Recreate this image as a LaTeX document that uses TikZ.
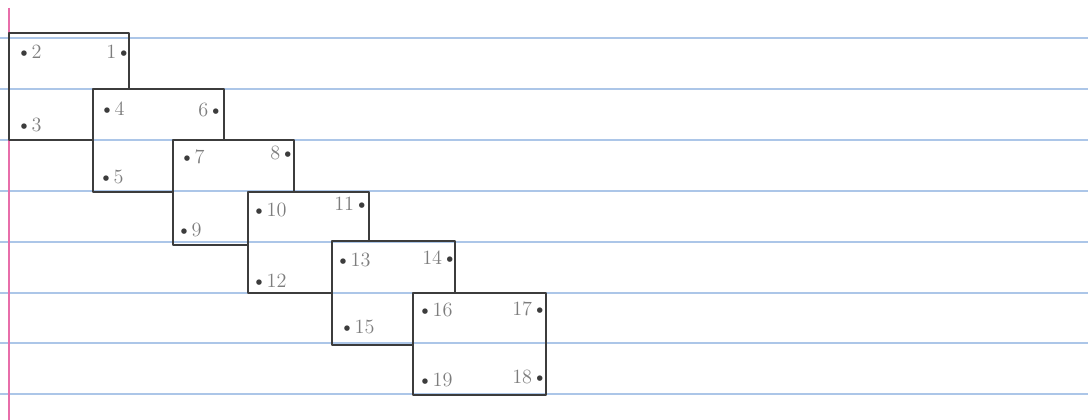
\documentclass[tikz,border=0pt]{standalone}
\usepackage{tikz}
\definecolor{ruleblue}{RGB}{172,198,232}
\definecolor{marginpink}{RGB}{232,110,170}
\definecolor{pencil}{RGB}{60,60,60}
\definecolor{lightpencil}{RGB}{125,125,125}
\newcommand{\pdot}{{\color{pencil}\textbullet}}

\begin{document}
\begin{tikzpicture}[x=0.025cm,y=-0.025cm,
  box/.style={draw=pencil,line width=1.6pt,line join=round},
  num/.style={text=lightpencil,font=\Large,inner sep=0pt,anchor=west}]
  \useasboundingbox (0,0) rectangle (1088,420);
  % paper
  \fill[white] (0,0) rectangle (1088,420);
  \draw[ruleblue,line width=1.2pt] (0,38)--(1088,38) (0,89)--(1088,89) (0,140)--(1088,140) (0,191)--(1088,191)
    (0,242)--(1088,242) (0,293)--(1088,293) (0,343)--(1088,343) (0,394)--(1088,394);
  \draw[marginpink,line width=1.6pt] (9,8)--(9,420);
  % box 1
  \draw[box] (129,89) -- (129,33) -- (9,33) -- (9,140) -- (93,140);
  \node[num] (n2) at (16,52) {\pdot2};
  \node[num] (n1) at (106,52) {1\pdot};
  \node[num] (n3) at (16,125) {\pdot3};
  % box 2
  \draw[box] (224,140) -- (224,89) -- (93,89) -- (93,192) -- (173,192);
  \node[num] (n4) at (99,109) {\pdot4};
  \node[num] (n6) at (198,110) {6\pdot};
  \node[num] (n5) at (98,177) {\pdot5};
  % box 3
  \draw[box] (294,192) -- (294,140) -- (173,140) -- (173,245) -- (248,245);
  \node[num] (n7) at (179,157) {\pdot7};
  \node[num] (n8) at (270,153) {8\pdot};
  \node[num] (n9) at (176,230) {\pdot9};
  % box 4
  \draw[box] (369,242) -- (369,192) -- (248,192) -- (248,293) -- (332,293);
  \node[num] (n10) at (251,210) {\pdot10};
  \node[num] (n11) at (334,204) {11\pdot};
  \node[num] (n12) at (251,281) {\pdot12};
  % box 5
  \draw[box] (455,293) -- (455,241) -- (332,241) -- (332,345) -- (413,345);
  \node[num] (n13) at (335,260) {\pdot13};
  \node[num] (n14) at (422,258) {14\pdot};
  \node[num] (n15) at (339,327) {\pdot15};
  % box 6
  \draw[box] (413,293) rectangle (546,395);
  \node[num] (n16) at (417,310) {\pdot16};
  \node[num] (n17) at (512,309) {17\pdot};
  \node[num] (n19) at (417,380) {\pdot19};
  \node[num] (n18) at (512,377) {18\pdot};
\end{tikzpicture}
\end{document}
